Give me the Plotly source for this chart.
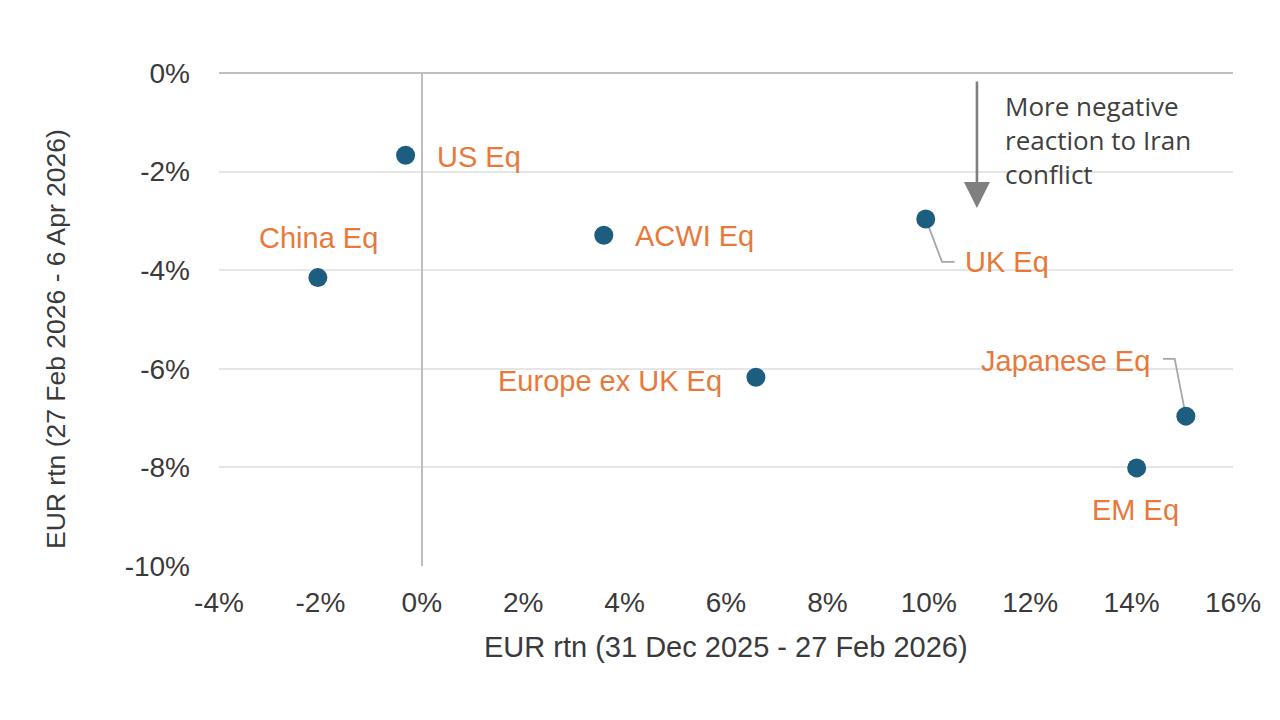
import plotly.graph_objects as go

# ---- data ----
names = ["US Eq", "China Eq", "ACWI Eq", "UK Eq", "Europe ex UK Eq", "Japanese Eq", "EM Eq"]
x_rtn = [-0.32, -2.05, 3.59, 9.94, 6.59, 15.07, 14.10]   # EUR rtn 31 Dec 2025 - 27 Feb 2026 (%)
y_rtn = [-1.67, -4.15, -3.29, -2.96, -6.17, -6.96, -8.01]  # EUR rtn 27 Feb 2026 - 6 Apr 2026 (%)
x_ticks = [-4, -2, 0, 2, 4, 6, 8, 10, 12, 14, 16]
y_ticks = [-10, -8, -6, -4, -2, 0]

# ---- styles / label placement (pixel offsets from point) ----
MARKER = "#1D5E80"
ORANGE = "#E8793A"
TXT = "#3A3A3A"
FONT = "Liberation Sans, Arial, sans-serif"
FS_LAB = 29
FS_TICK = 28

# label placement: (xanchor, xshift, yshift)
label_pos = {
    "US Eq": ("left", 29, -2),
    "China Eq": ("center", 1, 40),
    "ACWI Eq": ("left", 29, -1),
    "UK Eq": ("left", 37, -43),
    "Europe ex UK Eq": ("right", -32, -4),
    "Japanese Eq": ("right", -34, 55),
    "EM Eq": ("center", -1, -42),
}
# leader lines (data-unit offsets from point)
leaders = {
    "UK Eq": [(0, 0), (0.32, -0.87), (0.57, -0.87)],
    "Japanese Eq": [(0, 0), (-0.22, 1.16), (-0.45, 1.16)],
}

fig = go.Figure()

for nm, pts in leaders.items():
    i = names.index(nm)
    fig.add_trace(go.Scatter(
        x=[x_rtn[i] + dx for dx, dy in pts],
        y=[y_rtn[i] + dy for dx, dy in pts],
        mode="lines", line=dict(color="#A6A6A6", width=1.8),
        hoverinfo="skip", showlegend=False))

fig.add_trace(go.Scatter(
    x=x_rtn, y=y_rtn, mode="markers", text=names,
    marker=dict(size=19, color=MARKER), showlegend=False))

for nm, xv, yv in zip(names, x_rtn, y_rtn):
    xa, xs, ys = label_pos[nm]
    fig.add_annotation(x=xv, y=yv, text=nm, showarrow=False, xanchor=xa, yanchor="middle",
                       xshift=xs, yshift=ys, font=dict(family=FONT, size=FS_LAB, color=ORANGE))

# arrow annotation
fig.add_annotation(x=10.95, y=-2.74, ax=10.95, ay=-0.14, axref="x", ayref="y",
                   showarrow=True, arrowhead=2, arrowsize=2.0, arrowwidth=2.6,
                   arrowcolor="#7F7F7F", text="")
fig.add_annotation(x=11.46, y=-0.26, text="More negative<br>reaction to Iran<br>conflict",
                   showarrow=False, xanchor="left", yanchor="top", align="left",
                   font=dict(family="Open Sans, sans-serif", size=26, color="#404040"))

# axis titles
fig.add_annotation(x=0.5, y=-0.165, xref="paper", yref="paper",
                   text="EUR rtn (31 Dec 2025 - 27 Feb 2026)", showarrow=False,
                   xanchor="center", yanchor="middle", font=dict(family=FONT, size=FS_LAB, color=TXT))
fig.add_annotation(x=-0.161, y=0.46, xref="paper", yref="paper",
                   text="EUR rtn (27 Feb 2026 - 6 Apr 2026)", showarrow=False, textangle=-90,
                   xanchor="center", yanchor="middle", font=dict(family=FONT, size=26.5, color=TXT))

fig.update_xaxes(range=[-4, 16], tickvals=x_ticks, ticktext=[f"{v}%" for v in x_ticks],
                 showgrid=False, zeroline=True, zerolinecolor="#BFBFBF", zerolinewidth=2,
                 showline=False, ticks="", ticklabelstandoff=17,
                 tickfont=dict(family=FONT, size=FS_TICK, color=TXT))
fig.update_yaxes(range=[-10, 0], tickvals=y_ticks, ticktext=[f"{v}%" for v in y_ticks],
                 showgrid=True, gridcolor="#E6E6E6", gridwidth=1.5,
                 zeroline=True, zerolinecolor="#BFBFBF", zerolinewidth=2,
                 showline=False, ticks="", ticklabelstandoff=28,
                 tickfont=dict(family=FONT, size=FS_TICK, color=TXT))

fig.update_layout(width=1264, height=704, margin=dict(l=211, r=39, t=65, b=146),
                  paper_bgcolor="white", plot_bgcolor="white")

fig.write_html("out.html")
